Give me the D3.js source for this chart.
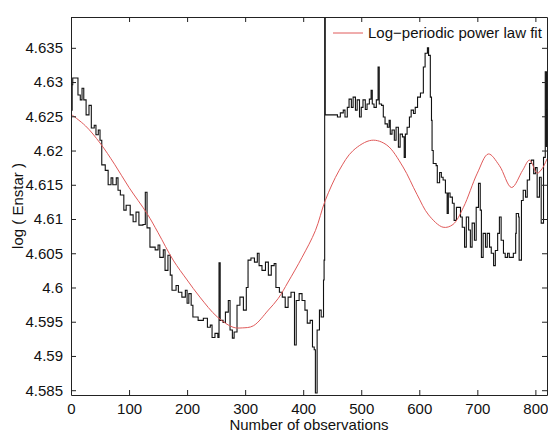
<!DOCTYPE html>
<html>
<head>
<meta charset="utf-8">
<script src="https://cdn.jsdelivr.net/npm/d3@7"></script>
<style>
  body { margin: 0; background: #fff; }
  text { font-family: "Liberation Sans", Arial, sans-serif; }
</style>
</head>
<body>
<div id="chart"></div>
<script>
// Observed series: [observation number, log(Enstar)]
var enstarSeries = [
  [0,4.6259],[2,4.6296],[3,4.6306],[9,4.6306],[12,4.6281],[16,4.6274],[19,4.6291],[22,4.6274],
  [26,4.6252],[31,4.6266],[35,4.6233],[40,4.6237],[43,4.6223],[47,4.6230],[50,4.6215],[53,4.6179],
  [59,4.6171],[64,4.6150],[69,4.6160],[72,4.6150],[78,4.6160],[81,4.6142],[85,4.6135],[91,4.6113],
  [95,4.6120],[102,4.6106],[107,4.6096],[112,4.6110],[117,4.6091],[124,4.6092],[128,4.6139],[131,4.6087],
  [136,4.6059],[145,4.6055],[150,4.6062],[153,4.6044],[159,4.6055],[162,4.6025],[167,4.6047],[171,4.6018],
  [174,4.5996],[181,4.6003],[185,4.5993],[191,4.5986],[197,4.5996],[200,4.5977],[203,4.5991],[207,4.5974],
  [210,4.5957],[219,4.5952],[228,4.5955],[235,4.5942],[240,4.5945],[243,4.5927],[248,4.5933],[253,4.5927],
  [255,4.6036],[257,4.5952],[262,4.5949],[266,4.5964],[271,4.5981],[274,4.5938],[278,4.5926],[281,4.5935],
  [286,4.5974],[291,4.5986],[297,4.5967],[302,4.6000],[305,4.6040],[310,4.6043],[316,4.6037],[321,4.6050],
  [324,4.6032],[329,4.6025],[335,4.6037],[340,4.6018],[345,4.6032],[350,4.6035],[353,4.6000],[359,4.5993],
  [364,4.5986],[369,4.5971],[374,4.5986],[379,4.5993],[385,4.5916],[388,4.5981],[393,4.5991],[398,4.5981],
  [403,4.5967],[407,4.5948],[412,4.5952],[416,4.5913],[419,4.5909],[421,4.5846],[424,4.5938],[428,4.5967],
  [431,4.5957],[435,4.6011],[436,4.6040],[437,4.6410],[438,4.6252],[452,4.6252],[459,4.6249],[464,4.6255],
  [469,4.6259],[472,4.6249],[476,4.6263],[479,4.6275],[483,4.6263],[486,4.6278],[490,4.6259],[493,4.6274],
  [497,4.6249],[500,4.6263],[503,4.6274],[507,4.6260],[510,4.6268],[514,4.6275],[517,4.6288],[519,4.6268],
  [522,4.6263],[526,4.6274],[529,4.6322],[531,4.6268],[535,4.6266],[538,4.6249],[541,4.6239],[545,4.6234],
  [548,4.6244],[550,4.6224],[553,4.6230],[557,4.6215],[560,4.6234],[564,4.6205],[567,4.6224],[571,4.6220],
  [574,4.6190],[576,4.6224],[579,4.6234],[583,4.6249],[586,4.6259],[590,4.6254],[593,4.6263],[597,4.6278],
  [602,4.6284],[607,4.6322],[610,4.6342],[614,4.6350],[616,4.6339],[619,4.6278],[621,4.6244],[622,4.6200],
  [624,4.6181],[629,4.6178],[631,4.6153],[635,4.6168],[638,4.6161],[641,4.6157],[645,4.6138],[648,4.6108],
  [650,4.6138],[653,4.6132],[657,4.6123],[660,4.6098],[664,4.6117],[667,4.6117],[671,4.6103],[674,4.6088],
  [678,4.6059],[681,4.6103],[685,4.6084],[688,4.6059],[691,4.6094],[695,4.6069],[698,4.6117],[702,4.6152],
  [705,4.6113],[707,4.6044],[710,4.6079],[714,4.6059],[717,4.6079],[721,4.6059],[724,4.6050],[728,4.6032],
  [731,4.6054],[735,4.6079],[738,4.6103],[741,4.6069],[745,4.6050],[748,4.6044],[752,4.6050],[755,4.6044],
  [759,4.6044],[762,4.6050],[766,4.6079],[767,4.6108],[771,4.6103],[772,4.6040],[776,4.6127],[779,4.6142],
  [783,4.6132],[786,4.6157],[790,4.6181],[793,4.6186],[797,4.6166],[800,4.6175],[803,4.6132],[807,4.6161],
  [810,4.6094],[814,4.6190],[817,4.6315],[819,4.6205]
];

// Log-periodic power law fit
var fitSeries = [
  [0,4.6253],[25,4.6236],[50,4.6211],[75,4.6180],[100,4.6146],[131,4.6108],[150,4.6080],[176,4.6040],
  [200,4.6011],[222,4.5986],[252,4.5957],[279,4.5942],[295,4.5941],[314,4.5944],[340,4.5967],[357,4.5984],
  [374,4.6008],[398,4.6044],[421,4.6083],[438,4.6127],[462,4.6171],[486,4.6200],[518,4.6215],[544,4.6208],
  [572,4.6176],[596,4.6136],[616,4.6106],[641,4.6088],[658,4.6092],[676,4.6117],[700,4.6167],[719,4.6195],
  [738,4.6178],[759,4.6146],[778,4.6171],[790,4.6186],[803,4.6167],[812,4.6174],[820,4.6188]
];

var xTicks = [0, 100, 200, 300, 400, 500, 600, 700, 800];
var yTicks = [4.585, 4.59, 4.595, 4.6, 4.605, 4.61, 4.615, 4.62, 4.625, 4.63, 4.635];
var legendLabel = "Log\u2212periodic power law fit";

var W = 548, H = 434;
var margin = { top: 17, right: 1, bottom: 39, left: 71 };

var svg = d3.select("#chart").append("svg")
    .attr("width", W)
    .attr("height", H);

var x = d3.scaleLinear().domain([0, 820]).range([margin.left, W - margin.right]);
var y = d3.scaleLinear().domain([4.5843, 4.6395]).range([H - margin.bottom, margin.top]);

svg.append("clipPath").attr("id", "plot")
  .append("rect")
    .attr("x", margin.left).attr("y", margin.top)
    .attr("width", W - margin.left - margin.right)
    .attr("height", H - margin.top - margin.bottom);

// black observed series, drawn as steps like the raw data
var stepLine = d3.line()
    .x(function(d) { return x(d[0]); })
    .y(function(d) { return y(d[1]); })
    .curve(d3.curveStepAfter);

svg.append("path")
    .datum(enstarSeries)
    .attr("clip-path", "url(#plot)")
    .attr("fill", "none")
    .attr("stroke", "#111")
    .attr("stroke-width", 1.1)
    .attr("d", stepLine);

// red fit
var fitLine = d3.line()
    .x(function(d) { return x(d[0]); })
    .y(function(d) { return y(d[1]); })
    .curve(d3.curveCatmullRom);

svg.append("path")
    .datum(fitSeries)
    .attr("clip-path", "url(#plot)")
    .attr("fill", "none")
    .attr("stroke", "#e05a5a")
    .attr("stroke-width", 1)
    .attr("d", fitLine);

// axes (ticks point inward, matlab style)
var fmt = function(d) { return String(+d.toFixed(3)); };

var gx = svg.append("g")
    .attr("transform", "translate(0," + (H - margin.bottom) + ")")
    .call(d3.axisBottom(x).tickValues(xTicks).tickSizeInner(-5).tickSizeOuter(0).tickPadding(8));
var gy = svg.append("g")
    .attr("transform", "translate(" + margin.left + ",0)")
    .call(d3.axisLeft(y).tickValues(yTicks).tickFormat(fmt).tickSizeInner(-5).tickSizeOuter(0).tickPadding(8));
var gt = svg.append("g")
    .attr("transform", "translate(0," + margin.top + ")")
    .call(d3.axisTop(x).tickValues(xTicks).tickFormat("").tickSizeInner(-5).tickSizeOuter(0));
var gr = svg.append("g")
    .attr("transform", "translate(" + (W - margin.right) + ",0)")
    .call(d3.axisRight(y).tickValues(yTicks).tickFormat("").tickSizeInner(-5).tickSizeOuter(0));

[gx, gy, gt, gr].forEach(function(g) {
    g.selectAll("path, line").attr("stroke", "#222");
    g.selectAll("text").attr("font-size", "15px").attr("fill", "#111")
        .style("font-family", "'Liberation Sans', Arial, sans-serif");
});

// axis labels
svg.append("text")
    .attr("x", (x.range()[0] + x.range()[1]) / 2)
    .attr("y", 430)
    .attr("text-anchor", "middle")
    .attr("font-size", "15px")
    .attr("fill", "#111")
    .text("Number of observations");

svg.append("text")
    .attr("transform", "translate(23," + ((H - margin.bottom + margin.top) / 2) + ") rotate(-90)")
    .attr("text-anchor", "middle")
    .attr("font-size", "15px")
    .attr("fill", "#111")
    .text("log ( Enstar )");

// legend
var legend = svg.append("g").attr("transform", "translate(333,33)");
legend.append("line")
    .attr("x1", 0).attr("x2", 30)
    .attr("stroke", "#e05a5a").attr("stroke-width", 1);
legend.append("text")
    .attr("x", 35)
    .attr("dy", "0.35em")
    .attr("font-size", "15px")
    .attr("fill", "#111")
    .text(legendLabel);
</script>
</body>
</html>
